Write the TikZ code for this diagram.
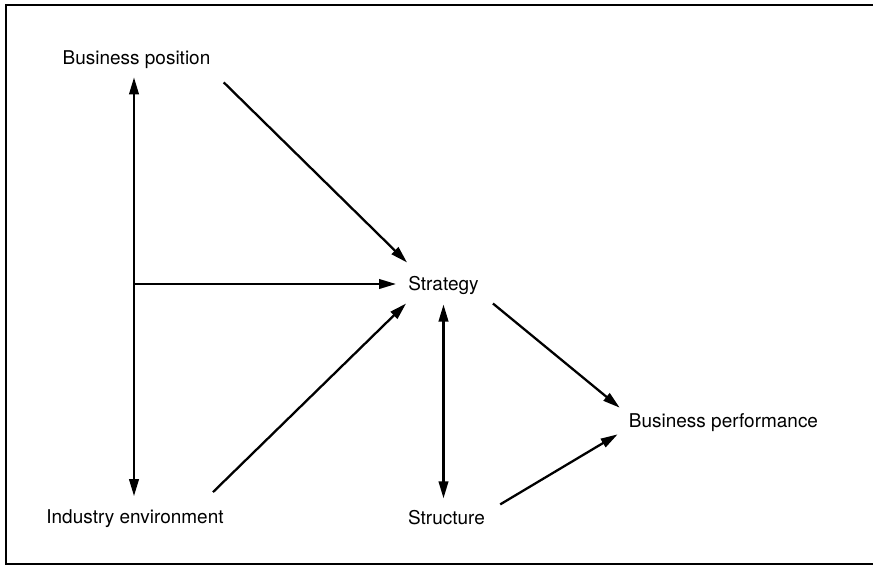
\documentclass[tikz,border=0pt]{standalone}
\usepackage{fontspec}
\setmainfont{TeX Gyre Heros}
\usepackage{tikz}
\usetikzlibrary{arrows.meta,calc}

\begin{document}
\begin{tikzpicture}[
	x = 0.02cm, y = -0.02cm,
	labelnode/.style={inner sep=0pt, font=\fontsize{10.8}{13}\selectfont},
	linkarrow/.style={-{Triangle[length=0.34cm,width=0.19cm]}, line width=1.3pt},
	twowayarrow/.style={{Triangle[length=0.34cm,width=0.19cm]}-{Triangle[length=0.34cm,width=0.19cm]}, line width=1.3pt},
	framerule/.style={line width=1.2pt},
	]
	\useasboundingbox (0,0) rectangle (873,565);
	%Frame
	\draw[framerule] (873,5) -- (6,5) -- (6,564) -- (873,564);
	
	%Nodes
	\node[labelnode] (bp)     at (136.5,60)  {Business position};
	\node[labelnode] (strat)  at (443.5,285) {Strategy};
	\node[labelnode] (ie)     at (135,518.5) {Industry environment};
	\node[labelnode] (struct) at (446.5,518) {Structure};
	\node[labelnode] (bperf)  at (723.5,423) {Business performance};
	\coordinate (j) at (134,284);
	
	%Lines
	\draw[twowayarrow] ($(bp.south -| j)+(0,8)$) -- ($(ie.north -| j)+(0,-13)$);
	\draw[linkarrow] (j) -- ($(j -| strat.west)+(-12,0)$);
	\draw[linkarrow] ($(bp.south east)+(13,13)$) -- ($(strat.north west)+(-1,-13)$);
	\draw[linkarrow] ($(ie.north east)+(-11,-17)$) -- ($(strat.south west)+(-2,9)$);
	\draw[twowayarrow] ($(strat.south)+(0,10)$) -- ($(strat.south |- struct.north)+(0,-12)$);
	\draw[linkarrow] ($(strat.south east)+(14,9)$) -- ($(bperf.north west)+(-9,-6)$);
	\draw[linkarrow] ($(struct.north east)+(15,-6)$) -- ($(bperf.south west)+(-11,2)$);
\end{tikzpicture}
\end{document}
